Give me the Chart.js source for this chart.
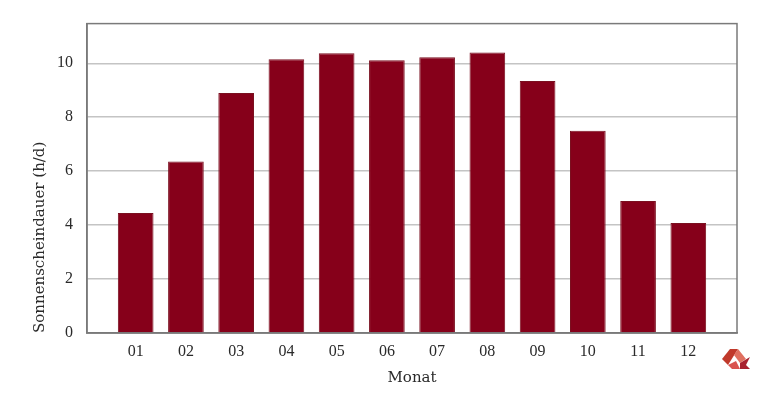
<!DOCTYPE html>
<html>
<head>
<meta charset="utf-8">
<script src="https://cdn.jsdelivr.net/npm/chart.js@4"></script>
<style>
  html, body { margin: 0; padding: 0; background: #fff; }
  #wrap { width: 770px; height: 395px; }
</style>
</head>
<body>
<div id="wrap"><canvas id="myChart" width="770" height="395"></canvas></div>
<script>
// Monthly values
const months = [1, 2, 3, 4, 5, 6, 7, 8, 9, 10, 11, 12];
const monthLabels = ['01', '02', '03', '04', '05', '06', '07', '08', '09', '10', '11', '12'];
const sunHours = [4.45, 6.36, 8.9, 10.15, 10.37, 10.11, 10.22, 10.4, 9.34, 7.5, 4.89, 4.08];
const yTicks = [0, 2, 4, 6, 8, 10];

const barColor = '#86001a';
const tickFont = "'Liberation Serif', 'DejaVu Serif', serif";
const titleFont = "'DejaVu Serif', 'Liberation Serif', serif";

// Frame around the plot area plus the small logo in the corner
const framePlugin = {
  id: 'frame',
  afterDatasetsDraw(chart) {
    const { ctx, chartArea } = chart;
    ctx.save();
    ctx.strokeStyle = '#7a7a7a';
    ctx.lineWidth = 1.5;
    ctx.strokeRect(chartArea.left, chartArea.top, chartArea.right - chartArea.left, chartArea.bottom - chartArea.top);

    // logo
    const x = 722, y = 347;
    ctx.fillStyle = '#c0392b';
    ctx.beginPath();
    ctx.moveTo(x + 8, y + 2); ctx.lineTo(x + 16, y + 2); ctx.lineTo(x + 6, y + 18); ctx.lineTo(x, y + 12);
    ctx.closePath(); ctx.fill();
    ctx.fillStyle = '#e07060';
    ctx.beginPath();
    ctx.moveTo(x + 16, y + 2); ctx.lineTo(x + 24, y + 12); ctx.lineTo(x + 18, y + 16); ctx.lineTo(x + 12, y + 8);
    ctx.closePath(); ctx.fill();
    ctx.fillStyle = '#a8202e';
    ctx.beginPath();
    ctx.moveTo(x + 18, y + 16); ctx.lineTo(x + 28, y + 10); ctx.lineTo(x + 24, y + 18); ctx.lineTo(x + 28, y + 22); ctx.lineTo(x + 18, y + 22);
    ctx.closePath(); ctx.fill();
    ctx.fillStyle = '#d9534f';
    ctx.beginPath();
    ctx.moveTo(x + 6, y + 18); ctx.lineTo(x + 14, y + 14); ctx.lineTo(x + 18, y + 22); ctx.lineTo(x + 10, y + 22);
    ctx.closePath(); ctx.fill();
    ctx.restore();
  }
};

function initializeChart() {
  const ctx = document.getElementById('myChart').getContext('2d');
  return new Chart(ctx, {
    type: 'bar',
    data: {
      datasets: [{
        label: 'Sonnenscheindauer',
        data: months.map((m, i) => ({ x: m, y: sunHours[i] })),
        backgroundColor: barColor,
        borderColor: '#7a1020',
        borderWidth: 1,
        barPercentage: 0.71,
        categoryPercentage: 1
      }]
    },
    options: {
      responsive: false,
      animation: false,
      layout: { padding: { top: 21, right: 33, left: 31, bottom: 0 } },
      plugins: {
        legend: { display: false },
        tooltip: { enabled: false }
      },
      scales: {
        x: {
          type: 'linear',
          min: 0.57,
          max: 12.43,
          grid: { display: false, drawTicks: false },
          border: { display: true, color: '#7a7a7a', width: 1.5 },
          afterBuildTicks: scale => { scale.ticks = months.map(v => ({ value: v })); },
          afterFit: scale => { scale.height = 62; },
          ticks: {
            padding: 9,
            color: '#2a2a2a',
            font: { family: tickFont, size: 16 },
            callback: value => monthLabels[months.indexOf(value)]
          },
          title: {
            display: true,
            text: 'Monat',
            color: '#2a2a2a',
            font: { family: titleFont, size: 15 },
            padding: { top: 0, bottom: 8 }
          }
        },
        y: {
          min: 0,
          max: 11.47,
          grid: { color: '#c4c4c4', lineWidth: 1.5, drawTicks: false },
          border: { display: true, color: '#7a7a7a', width: 1.5 },
          afterBuildTicks: scale => { scale.ticks = yTicks.map(v => ({ value: v })); },
          afterFit: scale => { scale.width = 56; },
          ticks: {
            padding: 14,
            color: '#2a2a2a',
            font: { family: tickFont, size: 16 }
          },
          title: {
            display: true,
            text: 'Sonnenscheindauer (h/d)',
            align: 'start',
            color: '#2a2a2a',
            font: { family: titleFont, size: 15 },
            padding: { top: 0, bottom: 4 }
          }
        }
      }
    },
    plugins: [framePlugin]
  });
}

const myChart = initializeChart();
</script>
</body>
</html>
